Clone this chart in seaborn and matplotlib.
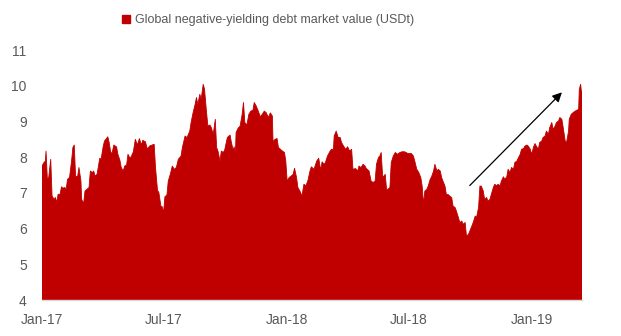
import numpy as np
import pandas as pd
import matplotlib
matplotlib.use("Agg")
import matplotlib.pyplot as plt
import matplotlib.dates as mdates
import seaborn as sns

# ---- data ----
start_date = "2017-01-01"
day_offsets = [
    0, 3, 5, 6, 8, 10, 13, 15, 18, 20, 22, 24, 27, 29, 31, 34, 36, 38, 41, 44,
    46, 48, 50, 53, 55, 58, 59, 62, 64, 67, 70, 72, 75, 77, 79, 82, 86, 88, 91, 93,
    97, 98, 100, 102, 104, 107, 109, 111, 113, 116, 118, 121, 123, 126, 128, 131, 133, 136, 139, 142,
    145, 148, 150, 154, 157, 160, 164, 167, 169, 172, 174, 177, 179, 181, 183, 186, 188, 191, 194, 197,
    200, 203, 207, 209, 213, 216, 220, 222, 225, 228, 230, 232, 235, 237, 240, 242, 245, 247, 250, 252,
    255, 258, 260, 262, 265, 267, 270, 272, 276, 280, 282, 285, 286, 288, 289, 292, 295, 298, 300, 302,
    305, 308, 311, 314, 316, 319, 322, 325, 328, 331, 334, 337, 340, 343, 344, 347, 350, 352, 355, 358,
    361, 363, 365, 368, 371, 374, 376, 379, 381, 384, 387, 390, 393, 396, 399, 401, 405, 409, 412, 415,
    417, 420, 422, 425, 429, 431, 434, 435, 438, 441, 444, 446, 449, 452, 455, 458, 461, 463, 467, 470,
    472, 475, 478, 481, 483, 487, 490, 493, 496, 498, 501, 503, 505, 507, 508, 511, 513, 515, 518, 520,
    523, 526, 529, 533, 536, 540, 545, 550, 553, 555, 558, 561, 564, 566, 568, 570, 573, 575, 578, 580,
    583, 585, 588, 590, 593, 595, 597, 600, 602, 605, 607, 610, 612, 615, 617, 620, 622, 625, 627, 630,
    632, 635, 637, 640, 642, 645, 647, 650, 652, 654, 657, 659, 662, 664, 667, 669, 672, 674, 677, 679,
    682, 684, 687, 689, 692, 694, 697, 699, 702, 704, 707, 709, 712, 714, 717, 719, 722, 724, 727, 729,
    732, 734, 736, 739, 741, 744, 746, 749, 751, 754, 756, 759, 761, 764, 766, 769, 771, 774, 776, 779,
    781, 784, 785, 788, 791, 794, 796, 799, 800, 802, 803, 804,
]
debt_usd_tn = [
    7.75, 7.85, 7.89, 8.17, 7.38, 7.43, 7.94, 6.91, 6.82, 6.87, 6.73, 6.96, 6.96, 7.17, 7.13, 7.15, 7.10, 7.38, 7.43, 7.89,
    8.27, 8.34, 7.47, 7.45, 7.71, 7.33, 6.82, 6.70, 7.05, 7.10, 7.15, 7.61, 7.57, 7.61, 7.47, 7.52, 7.97, 7.94, 8.29, 8.45,
    8.55, 8.57, 8.41, 8.17, 8.08, 8.34, 8.31, 8.29, 8.08, 7.91, 7.71, 7.61, 7.75, 7.78, 8.08, 7.97, 8.02, 8.15, 8.50, 8.34,
    8.52, 8.34, 8.47, 8.43, 8.22, 8.31, 8.34, 8.36, 7.71, 7.07, 7.01, 6.63, 6.61, 6.45, 6.89, 6.94, 7.33, 7.52, 7.75, 7.66,
    7.71, 7.94, 8.03, 8.27, 8.59, 8.55, 8.73, 8.97, 9.25, 9.48, 9.67, 9.48, 9.76, 9.62, 10.04, 9.90, 9.25, 8.87, 8.90, 8.83,
    8.64, 9.06, 8.27, 8.17, 7.89, 8.17, 8.13, 8.20, 8.55, 8.62, 8.41, 8.17, 8.29, 8.13, 8.69, 8.81, 8.87, 9.20, 9.53, 8.97,
    8.90, 9.20, 9.29, 9.31, 9.53, 9.43, 9.29, 9.13, 9.20, 9.29, 9.24, 9.11, 9.24, 9.15, 8.43, 8.50, 8.52, 8.27, 8.22, 8.17,
    8.13, 7.89, 7.33, 7.43, 7.47, 7.52, 7.69, 7.43, 7.15, 7.05, 6.91, 7.24, 7.20, 7.35, 7.61, 7.73, 7.66, 7.89, 7.97, 7.63,
    7.87, 7.80, 7.85, 8.03, 8.17, 8.22, 8.22, 8.59, 8.73, 8.55, 8.55, 8.41, 8.31, 8.22, 8.29, 8.17, 8.22, 7.66, 7.68, 7.61,
    7.75, 7.71, 7.80, 7.75, 7.68, 7.61, 7.33, 7.29, 7.33, 7.80, 7.99, 8.03, 8.13, 7.52, 7.43, 7.52, 7.10, 7.10, 7.15, 7.85,
    8.03, 8.13, 8.08, 8.13, 8.15, 8.15, 8.10, 8.10, 8.03, 7.89, 7.66, 7.57, 7.43, 7.19, 6.68, 7.05, 7.10, 7.19, 7.38, 7.45,
    7.61, 7.80, 7.61, 7.66, 7.61, 7.43, 7.33, 7.19, 6.96, 6.95, 6.91, 6.87, 6.63, 6.59, 6.49, 6.31, 6.17, 6.21, 6.12, 6.17,
    5.79, 5.84, 5.93, 6.07, 6.17, 6.35, 6.31, 6.59, 7.19, 7.19, 7.05, 6.82, 6.87, 6.77, 6.82, 6.96, 7.15, 7.24, 7.20, 7.24,
    7.20, 7.33, 7.45, 7.38, 7.45, 7.66, 7.57, 7.71, 7.66, 7.85, 7.89, 7.97, 8.08, 8.22, 8.24, 8.31, 8.34, 8.31, 8.22, 8.08,
    8.29, 8.38, 8.31, 8.22, 8.41, 8.45, 8.55, 8.59, 8.73, 8.64, 8.83, 8.97, 8.78, 8.87, 8.97, 9.01, 9.11, 9.06, 8.83, 8.45,
    8.41, 8.73, 9.06, 9.20, 9.25, 9.29, 9.31, 9.34, 9.90, 10.04, 9.85, 9.85,
]
series_label = "Global negative-yielding debt market value (USDt)"
y_ticks = [4, 5, 6, 7, 8, 9, 10, 11]
x_tick_dates = ["2017-01-01", "2017-07-01", "2018-01-01", "2018-07-01", "2019-01-01"]
x_tick_labels = ["Jan-17", "Jul-17", "Jan-18", "Jul-18", "Jan-19"]
arrow_start = ("2018-09-27", 7.15)
arrow_end = ("2019-02-17", 9.87)

dates = pd.to_datetime(start_date) + pd.to_timedelta(day_offsets, unit="D")
df = pd.DataFrame({"date": dates, "value": debt_usd_tn})

# ---- style ----
sns.set_style("white")
plt.rcParams["font.family"] = ["Liberation Sans", "DejaVu Sans"]
RED = "#C00000"
TXT = "#595959"

fig = plt.figure(figsize=(6.21, 3.36), dpi=100)
ax = fig.add_axes([42 / 621, 1 - 300 / 336, (582 - 42) / 621, (300 - 50) / 336])

sns.lineplot(data=df, x="date", y="value", ax=ax, color=RED, lw=0.6, legend=False)
ax.fill_between(df["date"], df["value"], 0, color=RED, lw=0, label=series_label)

ax.set_ylim(4, 11)
ax.set_xlim(df["date"].iloc[0], df["date"].iloc[-1])
ax.set_yticks(y_ticks)
ax.set_yticklabels([str(t) for t in y_ticks])
ax.set_xticks(pd.to_datetime(x_tick_dates))
ax.set_xticklabels(x_tick_labels)
ax.set_xlabel("")
ax.set_ylabel("")

for s in ["top", "right", "left"]:
    ax.spines[s].set_visible(False)
ax.spines["bottom"].set_color("#D9D9D9")
ax.spines["bottom"].set_linewidth(1.0)
ax.tick_params(axis="y", length=0, pad=11, labelsize=10, labelcolor=TXT)
ax.tick_params(axis="x", length=4.5, width=0.8, color="#D9D9D9", pad=5, labelsize=10, labelcolor=TXT)

ax.annotate("", xy=(pd.to_datetime(arrow_end[0]), arrow_end[1]),
            xytext=(pd.to_datetime(arrow_start[0]), arrow_start[1]),
            arrowprops=dict(arrowstyle="-|>", color="black", lw=0.9, mutation_scale=14))

handles = [plt.Rectangle((0, 0), 1, 1, color=RED)]
fig.legend(handles, [series_label], loc="center", bbox_to_anchor=(268 / 621, 1 - 20 / 336),
           frameon=False, fontsize=9, handlelength=0.6, handleheight=0.6, handletextpad=0.4,
           labelcolor=TXT)

fig.savefig("out.png", dpi=100)
